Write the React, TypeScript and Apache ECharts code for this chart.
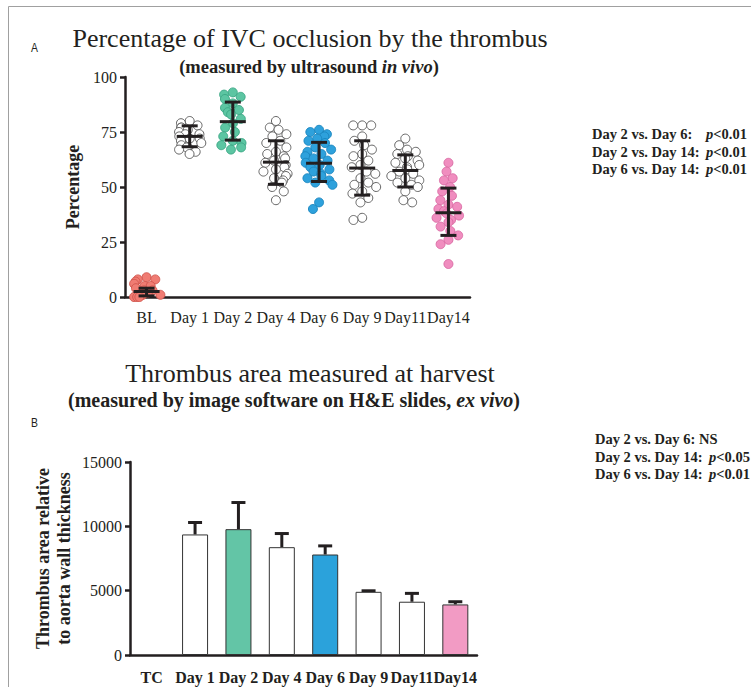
import React, { useEffect, useRef } from "react";
import * as echarts from "echarts";

// ---------- Panel A data ----------
const groupsA = ["BL", "Day 1", "Day 2", "Day 4", "Day 6", "Day 9", "Day11", "Day14"];
const valsBL = [9, 8, 8, 7, 6, 5, 5, 4, 3, 3, 2, 1, 1, 0, 0, 0];
const valsDay1 = [80, 79, 78, 77, 77, 76, 75, 74, 74, 73, 72, 72, 71, 70, 69, 68, 68, 67, 66, 65];
const valsDay2 = [93, 92, 91, 90, 88, 86, 85, 84, 83, 81, 79, 77, 75, 73, 71, 70, 69, 68, 67];
const valsDay4 = [80, 77, 76, 74, 73, 71, 70, 68, 66, 65, 64, 63, 62, 61, 60, 59, 58, 57, 56, 55, 54, 53, 52, 50, 48, 44];
const valsDay6 = [76, 75, 74, 73, 72, 71, 70, 68, 67, 66, 65, 64, 63, 62, 61, 60, 59, 58, 57, 56, 55, 54, 53, 52, 51, 43, 40];
const valsDay9 = [78, 78, 78, 73, 71, 69, 67, 65, 64, 62, 60, 59, 57, 56, 54, 52, 51, 50, 48, 47, 45, 43, 36, 35];
const valsDay11 = [72, 69, 67, 66, 65, 64, 63, 62, 61, 60, 59, 58, 57, 56, 55, 54, 53, 52, 51, 50, 48, 44, 43];
const valsDay14 = [61, 57, 54, 53, 50, 48, 46, 44, 42, 41, 40, 39, 38, 37, 36, 35, 34, 32, 30, 28, 26, 24, 15];
const meanA = [2.5, 73, 79.7, 61.3, 60.8, 58.6, 57.5, 38.3];
const sdLowA = [0.5, 68.3, 71.3, 51.2, 52.5, 46.3, 50, 28];
const sdHighA = [4, 77.8, 88.6, 71, 70.3, 71, 64.6, 49.5];
const ticksA = [0, 25, 50, 75, 100];

// ---------- Panel B data ----------
const groupsB = ["TC", "Day 1", "Day 2", "Day 4", "Day 6", "Day 9", "Day11", "Day14"];
const areaB = [null, 9370, 9780, 8380, 7810, 4910, 4140, 3930];
const areaErrB = [null, 10300, 11850, 9440, 8480, 4990, 4790, 4140];
const ticksB = [0, 5000, 10000, 15000];

// ---------- Annotations ----------
const statsA = [
  ["Day 2 vs. Day 6:", "<0.01"],
  ["Day 2 vs. Day 14:", "<0.01"],
  ["Day 6 vs. Day 14:", "<0.01"],
];
const statsB = [
  ["Day 2 vs. Day 6:", "NS"],
  ["Day 2 vs. Day 14:", "<0.05"],
  ["Day 6 vs. Day 14:", "<0.01"],
];

const SERIF = "Liberation Serif";
const SANS = "Liberation Sans";
const INK = "#231f20";

const groupValsA = [valsBL, valsDay1, valsDay2, valsDay4, valsDay6, valsDay9, valsDay11, valsDay14];
const dotFill = ["#f07c73", "#ffffff", "#5cc5a2", "#ffffff", "#2ea1dc", "#ffffff", "#ffffff", "#f08dbf"];
const dotBorder = ["#d0564e", "#555555", "#3aa683", "#555555", "#1a84bd", "#555555", "#555555", "#d96aa3"];
const barFill = ["#ffffff", "#ffffff", "#63c5a6", "#ffffff", "#2ba2db", "#ffffff", "#ffffff", "#f29bc4"];

export default function App() {
  const ref = useRef<HTMLDivElement>(null);
  useEffect(() => {
    if (!ref.current) return;
    const chart = echarts.init(ref.current, null, { renderer: "svg" });

    const axisLabelStyle = { fontFamily: SERIF, fontSize: 16, color: INK, formatter: (v: any) => String(v) };
    const lineStyle = { color: INK, width: 2.5 };

    const scatterSeries = groupValsA.map((vals, i) => ({
      type: "scatter",
      xAxisIndex: 0,
      yAxisIndex: 0,
      symbol: "circle",
      symbolSize: 9,
      z: 2,
      itemStyle: {
        color: dotFill[i],
        borderColor: dotBorder[i],
        borderWidth: 0.9,
        opacity: 1,
      },
      data: vals.map((v) => [groupsA[i], v]),
    }));

    const errA = {
      type: "custom",
      xAxisIndex: 0,
      yAxisIndex: 0,
      z: 5,
      renderItem: (params: any, api: any) => {
        const idx = api.value(0);
        const pm = api.coord([idx, api.value(1)]);
        const pl = api.coord([idx, api.value(2)]);
        const ph = api.coord([idx, api.value(3)]);
        const cap = 8;
        const half = 13;
        const st = { stroke: INK, lineWidth: 3 };
        return {
          type: "group",
          children: [
            { type: "line", shape: { x1: pm[0], y1: pl[1], x2: pm[0], y2: ph[1] }, style: st },
            { type: "line", shape: { x1: pm[0] - cap, y1: pl[1], x2: pm[0] + cap, y2: pl[1] }, style: st },
            { type: "line", shape: { x1: pm[0] - cap, y1: ph[1], x2: pm[0] + cap, y2: ph[1] }, style: st },
            { type: "line", shape: { x1: pm[0] - half, y1: pm[1], x2: pm[0] + half, y2: pm[1] }, style: st },
          ],
        };
      },
      data: groupsA.map((g, i) => [i, meanA[i], sdLowA[i], sdHighA[i]]),
    };

    const barsB = {
      type: "bar",
      xAxisIndex: 1,
      yAxisIndex: 1,
      barWidth: 26,
      z: 2,
      data: areaB.map((v, i) => ({
        value: v,
        itemStyle: { color: barFill[i], borderColor: "#333", borderWidth: 1 },
      })),
    };

    const errB = {
      type: "custom",
      xAxisIndex: 1,
      yAxisIndex: 1,
      z: 1,
      renderItem: (params: any, api: any) => {
        const idx = api.value(0);
        const p0 = api.coord([idx, api.value(1)]);
        const p1 = api.coord([idx, api.value(2)]);
        const cap = 7;
        const st = { stroke: INK, lineWidth: 3 };
        return {
          type: "group",
          children: [
            { type: "line", shape: { x1: p0[0], y1: p0[1], x2: p0[0], y2: p1[1] }, style: st },
            { type: "line", shape: { x1: p0[0] - cap, y1: p1[1], x2: p0[0] + cap, y2: p1[1] }, style: st },
          ],
        };
      },
      data: groupsB
        .map((g, i) => (areaB[i] == null ? null : [i, areaB[i], areaErrB[i]]))
        .filter((d) => d != null),
    };

    const richP = {
      i: { fontFamily: SERIF, fontSize: 14.5, fontStyle: "italic", fontWeight: "bold", fill: INK },
      n: { fontFamily: SERIF, fontSize: 14.5, fontWeight: "bold", fill: INK },
    };
    const statTexts: any[] = [];
    statsA.forEach((s, i) => {
      const y = 134 + i * 17.5;
      statTexts.push({
        type: "text",
        x: 592,
        y,
        style: { text: s[0], fontFamily: SERIF, fontSize: 14.5, fontWeight: "bold", fill: INK, textVerticalAlign: "middle" },
      });
      statTexts.push({
        type: "text",
        x: 706,
        y,
        style: { text: `{i|p}{n|${s[1]}}`, textVerticalAlign: "middle", rich: richP },
      });
    });
    statsB.forEach((s, i) => {
      const y = 439 + i * 17.5;
      statTexts.push({
        type: "text",
        x: 595,
        y,
        style: { text: s[0], fontFamily: SERIF, fontSize: 14.5, fontWeight: "bold", fill: INK, textVerticalAlign: "middle" },
      });
      const isNS = s[1] === "NS";
      statTexts.push({
        type: "text",
        x: isNS ? 699 : 709,
        y,
        style: {
          text: isNS ? `{n|${s[1]}}` : `{i|p}{n|${s[1]}}`,
          textVerticalAlign: "middle",
          rich: richP,
        },
      });
    });

    chart.setOption({
      animation: false,
      backgroundColor: "#ffffff",
      grid: [
        { left: 125, top: 77, width: 345, height: 220 },
        { left: 130, top: 462, width: 347, height: 193 },
      ],
      xAxis: [
        {
          type: "category",
          gridIndex: 0,
          data: groupsA,
          jitter: 28,
          jitterOverlap: false,
          jitterMargin: 0,
          axisLine: { lineStyle },
          axisTick: { alignWithLabel: true, length: 5, lineStyle },
          axisLabel: { fontFamily: SERIF, fontSize: 16, color: INK, margin: 12, interval: 0 },
        },
        {
          type: "category",
          gridIndex: 1,
          data: groupsB,
          axisLine: { lineStyle },
          axisTick: { alignWithLabel: true, length: 5, lineStyle },
          axisLabel: { fontFamily: SERIF, fontSize: 16, color: INK, fontWeight: "bold", margin: 14, interval: 0 },
        },
      ],
      yAxis: [
        {
          type: "value",
          gridIndex: 0,
          min: ticksA[0],
          max: ticksA[ticksA.length - 1],
          interval: 25,
          splitLine: { show: false },
          axisLine: { show: true, lineStyle },
          axisTick: { show: true, length: 5, lineStyle },
          axisLabel: { ...axisLabelStyle, margin: 8 },
          name: "Percentage",
          nameLocation: "middle",
          nameGap: 43,
          nameTextStyle: { fontFamily: SERIF, fontSize: 18, fontWeight: "bold", color: INK },
        },
        {
          type: "value",
          gridIndex: 1,
          min: ticksB[0],
          max: ticksB[ticksB.length - 1],
          interval: 5000,
          splitLine: { show: false },
          axisLine: { show: true, lineStyle },
          axisTick: { show: true, length: 5, lineStyle },
          axisLabel: { ...axisLabelStyle, margin: 8 },
          name: "Thrombus area relative\nto aorta wall thickness",
          nameLocation: "middle",
          nameGap: 56,
          nameTextStyle: { fontFamily: SERIF, fontSize: 18, fontWeight: "bold", color: INK, lineHeight: 21 },
        },
      ],
      graphic: [
        {
          type: "rect",
          shape: { x: 8.5, y: 6.5, width: 900, height: 900 },
          style: { fill: "none", stroke: "#a0a0a0", lineWidth: 1 },
          silent: true,
        },
        {
          type: "text",
          x: 31,
          y: 47,
          scaleX: 0.8,
          style: { text: "A", fontFamily: SANS, fontSize: 13, fill: INK, textVerticalAlign: "middle" },
        },
        {
          type: "text",
          x: 310,
          y: 38,
          style: { text: "Percentage of IVC occlusion by the thrombus", fontFamily: SERIF, fontSize: 26, fill: INK, textAlign: "center", textVerticalAlign: "middle" },
        },
        {
          type: "text",
          x: 309,
          y: 67,
          style: {
            text: "{a|(measured by ultrasound }{b|in vivo}{a|)}",
            textAlign: "center",
            textVerticalAlign: "middle",
            rich: {
              a: { fontFamily: SERIF, fontSize: 18.5, fontWeight: "bold", fill: INK },
              b: { fontFamily: SERIF, fontSize: 18.5, fontWeight: "bold", fontStyle: "italic", fill: INK },
            },
          },
        },
        {
          type: "text",
          x: 310,
          y: 373,
          style: { text: "Thrombus area measured at harvest", fontFamily: SERIF, fontSize: 26, fill: INK, textAlign: "center", textVerticalAlign: "middle" },
        },
        {
          type: "text",
          x: 294,
          y: 400,
          style: {
            text: "{a|(measured by image software on H&E slides, }{b|ex vivo}{a|)}",
            textAlign: "center",
            textVerticalAlign: "middle",
            rich: {
              a: { fontFamily: SERIF, fontSize: 20, fontWeight: "bold", fill: INK },
              b: { fontFamily: SERIF, fontSize: 20, fontWeight: "bold", fontStyle: "italic", fill: INK },
            },
          },
        },
        {
          type: "text",
          x: 31,
          y: 422,
          scaleX: 0.8,
          style: { text: "B", fontFamily: SANS, fontSize: 13, fill: INK, textVerticalAlign: "middle" },
        },
        ...statTexts,
      ],
      series: [...scatterSeries, errA, barsB, errB],
    } as any);

    return () => chart.dispose();
  }, []);

  return (
    <div
      ref={ref}
      style={{ position: "absolute", left: 0, top: 0, width: 751, height: 687, background: "#fff" }}
    />
  );
}
